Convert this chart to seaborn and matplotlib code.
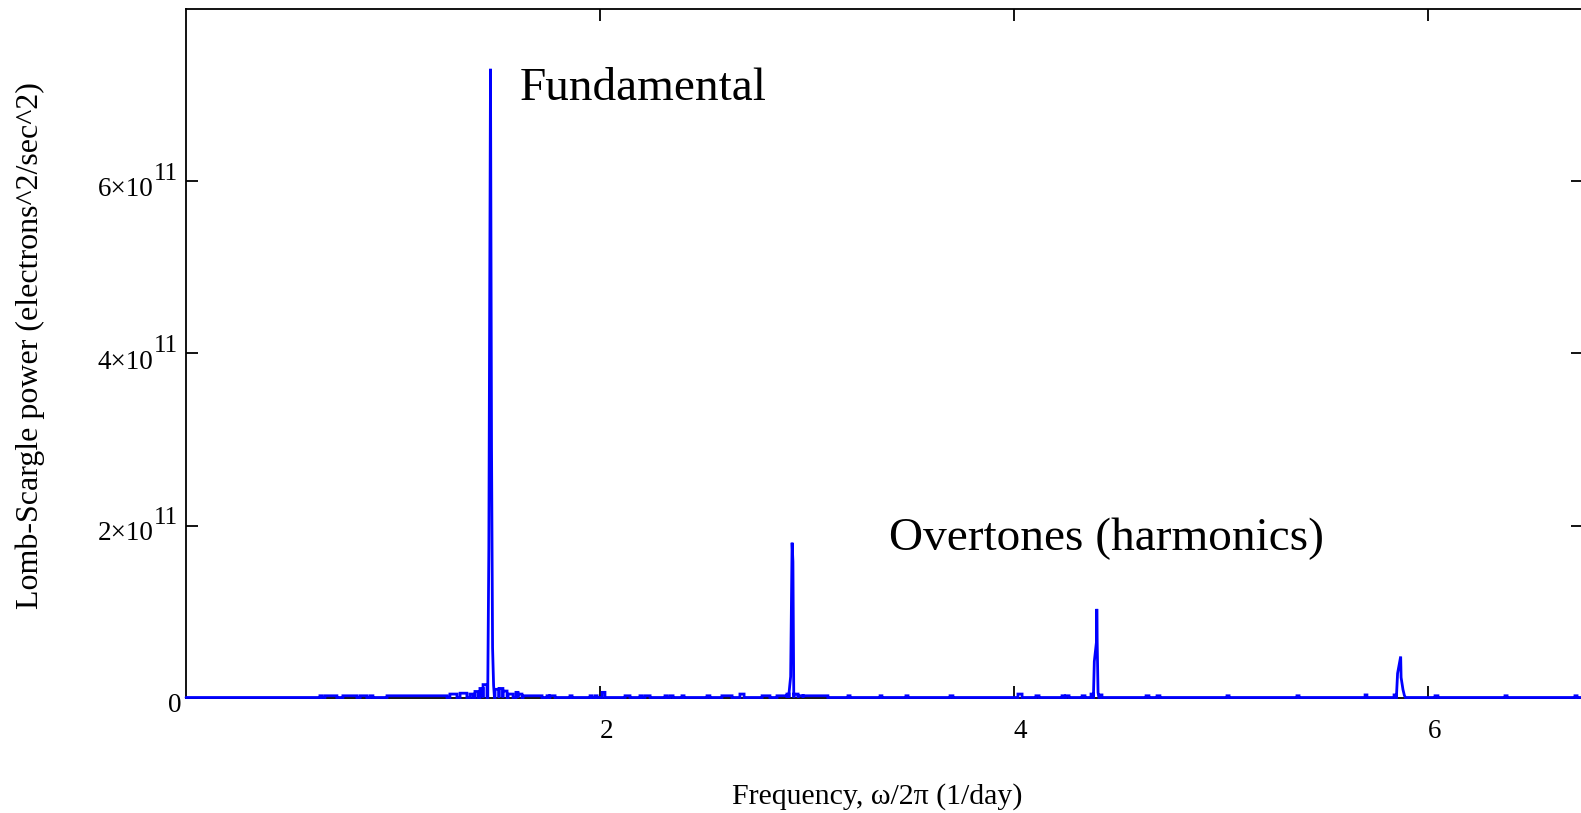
import numpy as np
import pandas as pd
import matplotlib
matplotlib.use("Agg")
import matplotlib.pyplot as plt
import seaborn as sns
from matplotlib.transforms import offset_copy

# ---------------- data (frequency in 1/day, power in units of 1e11) ----------------
XTICKS = [2, 4, 6]
YTICKS = [0, 2, 4, 6]
Y_EXP = 11

# small noise bumps: start freq, end freq, height
noise_start = [0.647, 0.671, 0.758, 0.841, 0.889, 0.971, 1.275, 1.324, 1.372, 1.396, 1.420, 1.435,
               1.493, 1.512, 1.531, 1.556, 1.594, 1.604, 1.628, 1.744, 1.758, 1.855, 1.952, 1.976,
               2.010, 2.121, 2.193, 2.217, 2.314, 2.338, 2.396, 2.517, 2.589, 2.676, 2.783, 2.855,
               2.903, 2.937, 2.957, 2.981, 3.198, 3.353, 3.478, 3.691, 4.019, 4.106, 4.232, 4.251,
               4.329, 4.372, 4.415, 4.638, 4.691, 5.029, 5.367, 5.696, 5.836, 6.034, 6.372, 6.710]
noise_end = [0.657, 0.729, 0.826, 0.874, 0.903, 1.261, 1.309, 1.357, 1.386, 1.411, 1.435, 1.454,
             1.512, 1.531, 1.551, 1.580, 1.604, 1.623, 1.720, 1.754, 1.783, 1.865, 1.961, 1.986,
             2.024, 2.145, 2.203, 2.242, 2.324, 2.353, 2.406, 2.531, 2.638, 2.696, 2.821, 2.903,
             2.913, 2.957, 2.981, 3.101, 3.208, 3.362, 3.488, 3.705, 4.039, 4.121, 4.242, 4.266,
             4.343, 4.382, 4.425, 4.652, 4.705, 5.039, 5.377, 5.705, 5.845, 6.048, 6.382, 6.720]
noise_height = [0.020, 0.020, 0.020, 0.020, 0.020, 0.020, 0.040, 0.050, 0.040, 0.070, 0.105, 0.150,
                0.095, 0.105, 0.075, 0.040, 0.060, 0.040, 0.020, 0.020, 0.020, 0.020, 0.020, 0.020,
                0.060, 0.020, 0.020, 0.020, 0.020, 0.020, 0.020, 0.020, 0.020, 0.040, 0.020, 0.020,
                0.040, 0.040, 0.020, 0.020, 0.020, 0.020, 0.020, 0.020, 0.040, 0.020, 0.020, 0.020,
                0.020, 0.040, 0.030, 0.020, 0.020, 0.020, 0.020, 0.030, 0.030, 0.020, 0.020, 0.020]

# peaks: fundamental and overtones
fund_f = [1.458, 1.463, 1.471, 1.476, 1.481, 1.486, 1.490]
fund_p = [0.163, 1.74, 7.31, 2.90, 0.58, 0.14, 0.0]
h2_f = [2.913, 2.921, 2.928, 2.932, 2.936, 2.937]
h2_p = [0.047, 0.244, 1.80, 1.58, 0.058, 0.0]
h3_f = [4.384, 4.388, 4.399, 4.400, 4.402, 4.406, 4.410]
h3_p = [0.035, 0.42, 0.66, 1.03, 0.63, 0.058, 0.0]
h4_f = [5.848, 5.853, 5.868, 5.870, 5.879, 5.886, 5.891]
h4_p = [0.035, 0.28, 0.477, 0.233, 0.093, 0.023, 0.0]

F_MIN, F_MAX = 0.0, 6.75
Y_MAX = 8

# ---------------- build spectrum path from the arrays ----------------
features = []
for a, b, h in zip(noise_start, noise_end, noise_height):
    features.append(([a, a, b, b], [0, h, h, 0]))
for fl, pl in [(fund_f, fund_p), (h2_f, h2_p), (h3_f, h3_p), (h4_f, h4_p)]:
    features.append(([fl[0]] + list(fl), [0] + list(pl)))
features.sort(key=lambda t: t[0][0])
fx, fy = [F_MIN], [0.0]
for xs, ys in features:
    fx += xs
    fy += ys
fx.append(F_MAX)
fy.append(0.0)
df = pd.DataFrame({"freq": fx, "power": np.array(fy) * 10.0 ** Y_EXP})

# ---------------- style ----------------
sns.set_theme(style="ticks")
plt.rcParams["font.family"] = ["Liberation Serif", "DejaVu Serif"]
plt.rcParams["text.color"] = "black"

W, H = 1581, 813
fig = plt.figure(figsize=(W / 100, H / 100), dpi=100)
ax = fig.add_axes([186 / W, 115.5 / H, (F_MAX - F_MIN) * 207 / W, Y_MAX * 86 / H])

sns.lineplot(data=df, x="freq", y="power", sort=False, estimator=None,
             color="#0000ff", linewidth=2.0, ax=ax)
line = ax.lines[-1]
line.set_clip_on(False)
line.set_zorder(3)
line.set_solid_joinstyle("miter")

ax.set_xlim(F_MIN, F_MAX)
ax.set_ylim(0, Y_MAX * 10.0 ** Y_EXP)
ax.set_xticks(XTICKS)
ax.set_yticks([v * 10.0 ** Y_EXP for v in YTICKS])
ax.tick_params(direction="in", length=8.6, width=1.3, color="black",
               top=True, right=True, labelbottom=False, labelleft=False)
ax.minorticks_off()
for s in ax.spines.values():
    s.set_visible(True)
    s.set_color("black")
    s.set_linewidth(1.3)
ax.set_xlabel("")
ax.set_ylabel("")

# tick labels
for v in XTICKS:
    ax.text(v, 0, f"{v}", transform=offset_copy(ax.get_xaxis_transform(), fig=fig, x=6.7, y=-40.5, units="dots"),
            ha="center", va="baseline", fontsize=19.5, color="black")
for v in YTICKS:
    yv = v * 10.0 ** Y_EXP
    if v == 0:
        ax.text(0, yv, "0", transform=offset_copy(ax.get_yaxis_transform(), fig=fig, x=-4.5, y=-14.5, units="dots"),
                ha="right", va="baseline", fontsize=19.5, color="black")
    else:
        ax.text(0, yv, f"{v}\u00d710", transform=offset_copy(ax.get_yaxis_transform(), fig=fig, x=-32.5, y=-15, units="dots"),
                ha="right", va="baseline", fontsize=19.5, color="black")
        ax.text(0, yv, f"{Y_EXP}", transform=offset_copy(ax.get_yaxis_transform(), fig=fig, x=-32, y=2, units="dots"),
                ha="left", va="baseline", fontsize=18, color="black")

# annotations
ax.text(1.614, 6.95e11, "Fundamental", fontsize=34, ha="left", va="baseline", color="black")
ax.text(3.396, 1.72e11, "Overtones (harmonics)", fontsize=34, ha="left", va="baseline", color="black")

# axis labels
fig.text(877 / W, 1 - 797 / H, "Frequency, \u03c9/2\u03c0 (1/day)", ha="center", va="center",
         fontsize=21.5, color="black")
fig.text(30 / W, 1 - 346 / H, "Lomb-Scargle power (electrons^2/sec^2)", ha="center", va="center",
         rotation=90, fontsize=23, color="black")

fig.savefig("out.png", dpi=100)
